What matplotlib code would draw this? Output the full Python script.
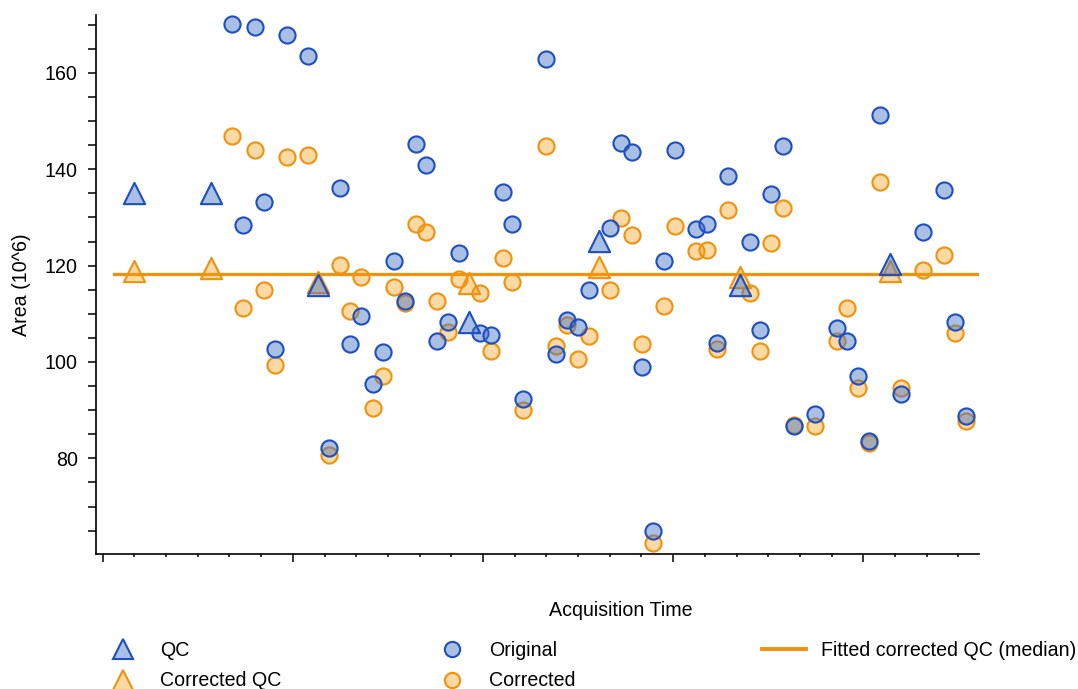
import matplotlib
matplotlib.use("Agg")
import matplotlib.pyplot as plt
from matplotlib.colors import to_rgba
from matplotlib.lines import Line2D
from matplotlib.ticker import MultipleLocator, NullFormatter

plt.rcParams['font.family'] = ['Liberation Sans', 'DejaVu Sans']

# acquisition time (arbitrary units, one minor tick = 1)
qc_time = [0.99, 3.42, 6.79, 11.56, 15.66, 20.10, 24.84]
qc_original = [135.1, 135.1, 115.9, 108.2, 125.2, 115.9, 120.3]
qc_corrected = [118.9, 119.6, 116.6, 116.4, 119.8, 117.6, 118.9]

sample_time = [4.08, 4.43, 4.80, 5.09, 5.44, 5.81, 6.48, 7.14, 7.49, 7.80,
               8.15, 8.53, 8.84, 9.19, 9.54, 9.88, 10.20, 10.55, 10.89, 11.24,
               11.90, 12.25, 12.63, 12.91, 13.26, 13.98, 14.30, 14.65, 14.99, 15.34,
               16.00, 16.35, 16.70, 17.01, 17.36, 17.71, 18.05, 18.72, 19.06, 19.38,
               19.73, 20.42, 20.74, 21.08, 21.46, 21.81, 22.47, 23.16, 23.48, 23.83,
               24.18, 24.52, 25.18, 25.88, 26.54, 26.89, 27.23]
original = [170.1, 128.5, 169.6, 133.2, 102.6, 167.9, 163.5, 82.1, 136.2, 103.7,
            109.6, 95.4, 102.0, 121.0, 112.7, 145.2, 140.9, 104.4, 108.3, 122.6,
            106.0, 105.7, 135.2, 128.6, 92.4, 162.8, 101.7, 108.7, 107.3, 114.9,
            127.9, 145.5, 143.5, 99.0, 65.0, 120.9, 143.9, 127.6, 128.6, 104.0,
            138.6, 124.9, 106.6, 134.8, 144.9, 86.8, 89.3, 107.0, 104.3, 97.0,
            83.7, 151.2, 93.4, 126.9, 135.6, 108.4, 88.7]
corrected = [146.9, 111.3, 143.9, 115.0, 99.3, 142.6, 142.9, 80.6, 120.2, 110.6,
             117.7, 90.4, 97.0, 115.6, 112.3, 128.6, 126.9, 112.7, 106.2, 117.3,
             114.3, 102.3, 121.6, 116.6, 90.1, 144.9, 103.3, 107.6, 100.7, 105.3,
             114.9, 129.9, 126.3, 103.7, 62.4, 111.6, 128.2, 123.0, 123.3, 102.6,
             131.6, 114.3, 102.3, 124.6, 131.9, 86.9, 86.7, 104.3, 111.3, 94.7,
             83.1, 137.3, 94.7, 119.0, 122.3, 106.0, 87.7]

fit_time = [0.36, 27.65]
fit_median = [118.2, 118.2]

blue_edge = '#1d4fc0'
blue_face = to_rgba('#4472c4', 0.45)
orange_edge = '#f0920c'
orange_face = to_rgba('#f39c12', 0.38)

fs = 14.1

fig = plt.figure(figsize=(10.78, 6.89), dpi=100)
ax = fig.add_axes([0.0888, 0.1959, 0.8194, 0.7823])

ax.plot(fit_time, fit_median, color=orange_edge, lw=2.3, zorder=2)

circle_kw = dict(s=135, linewidths=1.5, zorder=3)
tri_kw = dict(s=235, marker='^', linewidths=1.5, zorder=3)
ax.scatter(sample_time, corrected, facecolors=orange_face, edgecolors=orange_edge, **circle_kw)
ax.scatter(qc_time, qc_corrected, facecolors=orange_face, edgecolors=orange_edge, **tri_kw)
ax.scatter(sample_time, original, facecolors=blue_face, edgecolors=blue_edge, **circle_kw)
ax.scatter(qc_time, qc_original, facecolors=blue_face, edgecolors=blue_edge, **tri_kw)

ax.set_xlim(-0.22, 27.65)
ax.set_ylim(60.15, 172)
ax.xaxis.set_major_locator(MultipleLocator(6))
ax.xaxis.set_minor_locator(MultipleLocator(1))
ax.xaxis.set_major_formatter(NullFormatter())
ax.yaxis.set_major_locator(MultipleLocator(20))
ax.yaxis.set_minor_locator(MultipleLocator(5))

for side in ['top', 'right']:
    ax.spines[side].set_visible(False)
for side in ['left', 'bottom']:
    ax.spines[side].set_linewidth(1.2)

ax.tick_params(axis='y', which='both', direction='out', length=6, width=1.1,
               labelsize=fs, pad=7)
ax.tick_params(axis='x', which='major', direction='out', length=5.5, width=1.1)
ax.tick_params(axis='x', which='minor', direction='out', length=2.4, width=1.1)

ax.set_ylabel('Area (10^6)', fontsize=fs, labelpad=10)
fig.text(621 / 1078, 1 - 610 / 689, 'Acquisition Time', fontsize=fs,
         ha='center', va='center')

# legend, three columns placed by hand
def handle(marker, face, edge, ms):
    return Line2D([], [], ls='none', marker=marker, markersize=ms,
                  markerfacecolor=face, markeredgecolor=edge, markeredgewidth=1.5)

columns = [
    ([handle('^', blue_face, blue_edge, 15), handle('^', orange_face, orange_edge, 15)],
     ['QC', 'Corrected QC'], 100.5),
    ([handle('o', blue_face, blue_edge, 11), handle('o', orange_face, orange_edge, 11)],
     ['Original', 'Corrected'], 429.5),
    ([Line2D([], [], color=orange_edge, lw=2.8)],
     ['Fitted corrected QC (median)'], 762),
]
for handles, labels, x0 in columns:
    fig.legend(handles, labels, loc='upper left',
               bbox_to_anchor=(x0 / 1078, 1 - 641 / 689),
               frameon=False, fontsize=fs, handlelength=2.25, handletextpad=0.78,
               borderpad=0, borderaxespad=0, labelspacing=0.58)

fig.savefig('out.png', dpi=100)
